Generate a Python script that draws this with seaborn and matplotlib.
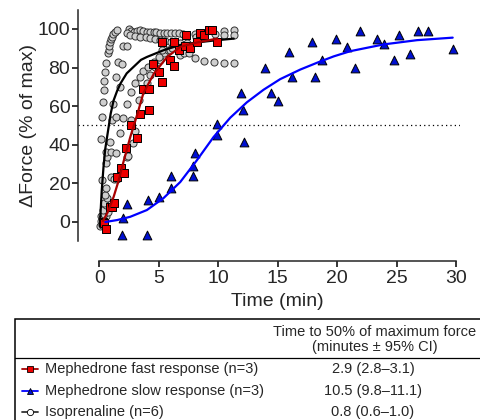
import matplotlib
matplotlib.use('Agg')
import matplotlib.pyplot as plt
from matplotlib.lines import Line2D
from matplotlib.patches import Rectangle
import seaborn as sns
import pandas as pd

# --- data ---
fast_t = [0.3, 0.4, 0.55, 0.9, 1.1, 1.2, 1.5, 1.8, 2.1, 2.2, 2.7, 3.2, 3.4, 3.7, 4.2, 4.2, 4.5,
          5.0, 5.3, 5.3, 5.9, 6.3, 6.3, 6.7, 7.2, 7.3, 7.6, 8.2, 8.5, 8.8, 9.2, 9.5, 9.9]
fast_f = [0.2, -0.7, -3.8, 8, 7.6, 10, 23.5, 27.8, 25.5, 38.5, 50, 43.4, 56, 68.7, 68.7, 58, 82,
          77.5, 72.7, 93.5, 84, 81, 93, 89, 91, 97, 90, 93.5, 98, 97, 99.5, 99.5, 93]

slow_t = [1.9, 2.0, 2.3, 4.0, 4.1, 5.0, 6.0, 6.0, 7.9, 7.9, 8.0, 9.9, 9.9, 11.9, 12.1, 12.2,
          13.9, 14.4, 15.0, 15.9, 16.2, 17.9, 18.1, 18.7, 19.9, 20.8, 21.5, 21.9, 23.3, 23.9,
          24.8, 25.2, 26.1, 26.8, 27.6, 29.7]
slow_f = [-7, 2, 9.3, -6.5, 11.4, 13, 17.6, 23.8, 23.8, 29, 35.7, 45, 51, 67, 58, 41.5,
          80, 67, 62.7, 88, 75, 93, 75, 84, 95, 90.5, 80, 99, 95, 92,
          84, 97, 87, 99, 99, 89.5]

iso_t = [0.05, 0.12, 0.2, 0.15, 0.23, 0.59, 0.36, 0.7, 0.3, 0.59, 0.36, 0.64, 0.5, 0.59, 0.98,
         1.26, 1.5, 0.59, 0.64, 0.25,
         2.3, 0.59, 0.98, 1.43, 0.87, 0.17, 1.7, 2.8, 2.4, 3.0, 0.23, 1.06, 1.43, 2.0, 0.3,
         1.15, 2.3, 0.36, 1.7, 2.7, 1.43, 2.7,
         0.42, 0.5, 0.56, 0.7, 0.78, 0.84, 0.92, 1.0, 1.06, 1.15, 1.3, 1.5,
         2.0, 2.3, 1.6, 1.9,
         3.3, 3.7, 4.0, 4.3, 4.7, 5.1, 5.4, 5.8,
         3.0, 3.4, 3.7, 4.1, 4.6, 5.0,
         2.5, 2.7, 2.9, 3.2, 3.4, 3.7, 4.0, 4.3, 4.6, 4.8, 5.1, 5.4, 5.7, 6.05, 6.4, 6.7,
         7.0, 8.0, 9.7, 10.5, 11.3, 10.5, 11.3,
         2.3, 2.6, 3.0, 3.4, 3.9, 4.3, 4.7, 5.1, 5.5, 6.0, 6.4, 6.8, 7.4, 8.1, 8.8,
         5.3, 5.9, 6.1, 6.8, 7.1, 7.5, 8.0, 8.8, 9.6, 10.5, 11.3]
iso_f = [-2, 0.5, -1.5, 3, 1.9, 3.3, 4, 5.3, 6.2, 8.8, 10, 12.6, 14, 17.5, 23.5,
         22.3, 22.3, 30.4, 33.8, 22,
         33.8, 36.4, 36.4, 35.6, 41.6, 43, 46, 41, 34, 47.3, 54.5, 53, 54.5, 54, 62,
         61, 61, 68.4, 70, 67.2, 75, 52.8,
         73.2, 77.9, 82.5, 87.4, 89, 91, 93, 94.7, 96, 97.4, 98.6, 99.5,
         91, 91.2, 83, 82,
         63, 68.4, 72, 76, 80.5, 84, 87.4, 89,
         72, 75.3, 78, 80.5, 83, 85.6,
         99.8, 99, 98.6, 99, 99.5, 99, 98.6, 98.6, 98.6, 98.3, 98, 97.7, 98, 98, 98, 98,
         97.4, 97.4, 97.4, 99, 99.5, 96.9, 96.9,
         97.7, 96.7, 96.4, 96, 95.7, 95.2, 94.7, 94.3, 94, 93.4, 93.4, 92.6, 92.6, 95.7, 95.7,
         89, 89, 90, 86.5, 87.4, 87.4, 85, 83.5, 83, 82.2, 82.2]

# fitted curves
fast_ct = [0.3, 0.7, 1.2, 1.6, 2.0, 2.6, 3.2, 3.7, 4.6, 5.7, 6.8, 8.2, 9.9]
fast_cf = [0.5, 5, 13, 21, 30.5, 44, 56, 66.7, 77, 85.5, 90.7, 93, 95]
slow_ct = [0.5, 1.5, 2.6, 4.0, 5.4, 6.8, 8.2, 9.6, 11.0, 12.4, 13.8, 15.2, 16.9, 18.3, 19.7,
           21.1, 23.9, 26.7, 29.7]
slow_cf = [0, 1, 2.7, 6.2, 12.4, 20.7, 32, 44, 54, 62, 68.5, 74, 79, 82.5, 85.8,
           88.5, 92, 94.2, 95.5]
iso_ct = [0.05, 0.1, 0.2, 0.35, 0.5, 0.7, 0.95, 1.2, 1.5, 1.8, 2.3, 2.9, 3.5, 4.0, 5.4,
          6.8, 8.2, 9.6, 11.3]
iso_cf = [-2, 4.7, 16, 28.5, 38, 46, 56, 63, 68, 72, 77, 80.5, 84, 85.5, 89,
          91.7, 93, 94, 95]

names = ['Mephedrone fast response (n=3)', 'Mephedrone slow response (n=3)', 'Isoprenaline (n=6)']
t50 = ['2.9 (2.8\u20133.1)', '10.5 (9.8\u201311.1)', '0.8 (0.6\u20131.0)']

sns.set_style('ticks')
plt.rcParams['font.family'] = ['Liberation Sans', 'DejaVu Sans']

fig = plt.figure(figsize=(4.81, 4.2), dpi=100)
ax = fig.add_axes([0.162, 0.4255, 0.794, 0.5515])

iso = pd.DataFrame({'t': iso_t, 'f': iso_f})
fast = pd.DataFrame({'t': fast_t, 'f': fast_f})
slow = pd.DataFrame({'t': slow_t, 'f': slow_f})

ax.axhline(50, ls=(0, (1, 2.5)), color='black', lw=0.9, zorder=1)

sns.scatterplot(data=iso, x='t', y='f', marker='o', s=26, color='#cfcfcf',
                edgecolor='#333333', linewidth=0.7, ax=ax, zorder=2)
sns.lineplot(x=iso_ct, y=iso_cf, color='black', lw=1.6, ax=ax, zorder=3)
sns.scatterplot(data=fast, x='t', y='f', marker='s', s=34, color='#ee0000',
                edgecolor='black', linewidth=0.7, ax=ax, zorder=4)
sns.lineplot(x=fast_ct, y=fast_cf, color='#a80000', lw=1.6, ax=ax, zorder=5)
sns.scatterplot(data=slow, x='t', y='f', marker='^', s=40, color='#0010d0',
                edgecolor='black', linewidth=0.7, ax=ax, zorder=4)
sns.lineplot(x=slow_ct, y=slow_cf, color='#0000ff', lw=1.6, ax=ax, zorder=5)

ax.set_xlim(-1.8, 30.3)
ax.set_ylim(-10, 110)
ax.set_xticks([0, 5, 10, 15, 20, 25, 30])
ax.set_yticks([0, 20, 40, 60, 80, 100])
sns.despine(ax=ax)
ax.spines['bottom'].set_bounds(0, 30)
ax.spines['bottom'].set_position(('outward', 14.4))
for s in ['left', 'bottom']:
    ax.spines[s].set_linewidth(1.1)
ax.tick_params(axis='both', labelsize=14, width=1.1, length=4.5, color='black')
ax.tick_params(axis='y', pad=1)
ax.tick_params(axis='x', pad=2)
ax.set_xlabel('Time (min)', fontsize=14)
ax.set_ylabel('\u0394Force (% of max)', fontsize=14)
ax.xaxis.set_label_coords(0.522, -0.225)
ax.yaxis.set_label_coords(-0.108, 0.5)

# --- table under the chart ---
W, H = 481.0, 420.0
def fx(px):
    return px / W
def fy(py):
    return 1 - py / H

fig.patches.append(Rectangle((fx(15), fy(440)), fx(490) - fx(15), fy(319.5) - fy(440),
                             transform=fig.transFigure, fill=False, lw=1.1, ec='black'))
fig.lines.append(Line2D([fx(15), fx(490)], [fy(358), fy(358)], transform=fig.transFigure,
                        lw=0.9, color='black'))
fig.text(fx(375), fy(332), 'Time to 50% of maximum force', ha='center', va='center', fontsize=10.5)
fig.text(fx(375), fy(347), '(minutes \u00b1 95% CI)', ha='center', va='center', fontsize=10.5)

row_y = [369, 391, 412]
styles = [('#a80000', 's', '#ee0000'), ('#0000ff', '^', '#0010d0'), ('#333333', 'o', 'white')]
for name, val, ry, (lc, mk, fc) in zip(names, t50, row_y, styles):
    fig.lines.append(Line2D([fx(22), fx(38)], [fy(ry), fy(ry)], transform=fig.transFigure,
                            color=lc, lw=1.3))
    fig.lines.append(Line2D([fx(30)], [fy(ry)], transform=fig.transFigure, marker=mk,
                            markersize=4.5, markerfacecolor=fc, markeredgecolor='black',
                            markeredgewidth=0.6, lw=0))
    fig.text(fx(45), fy(ry), name, ha='left', va='center', fontsize=10.5)
    fig.text(fx(373), fy(ry), val, ha='center', va='center', fontsize=10.5)

fig.savefig('out.png', dpi=100)
